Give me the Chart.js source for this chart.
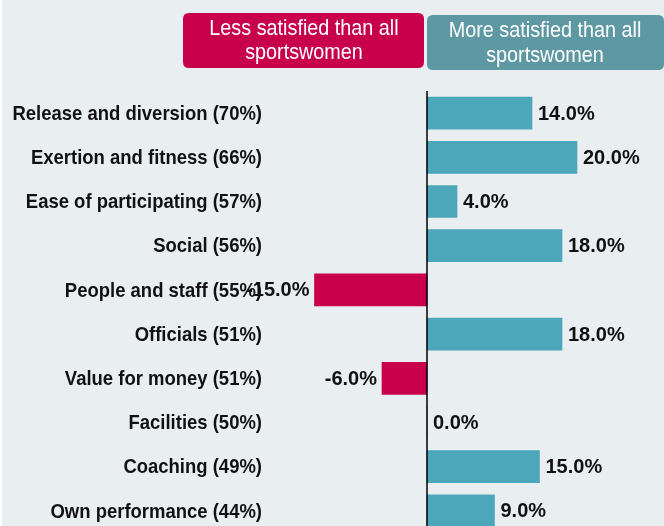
<!DOCTYPE html>
<html>
<head>
<meta charset="utf-8">
<script src="https://cdn.jsdelivr.net/npm/chart.js@4/dist/chart.umd.min.js"></script>
<style>
  html, body { margin: 0; padding: 0; background: #ffffff; overflow: hidden; }
  #wrap { position: absolute; left: 2px; top: 0; width: 662px; height: 560px; }
</style>
</head>
<body>
<div id="wrap"><canvas id="chart"></canvas></div>
<script>
// data
var categories = [
  'Release and diversion (70%)',
  'Exertion and fitness (66%)',
  'Ease of participating (57%)',
  'Social (56%)',
  'People and staff (55%)',
  'Officials (51%)',
  'Value for money (51%)',
  'Facilities (50%)',
  'Coaching (49%)',
  'Own performance (44%)'
];
var differences = [14, 20, 4, 18, -15, 18, -6, 0, 15, 9];
var lessLabel = ['Less satisfied than all', 'sportswomen'];
var moreLabel = ['More satisfied than all', 'sportswomen'];

var BG = '#e9eef1';
var RED = '#c8004b';
var TEAL = '#4da7ba';
var TEAL_BOX = '#5e98a2';

// draws text squeezed sideways, to look like a narrow face
function narrowText(ctx, txt, x, y, sx) {
  ctx.save();
  ctx.translate(x, y);
  ctx.scale(sx, 1);
  ctx.fillText(txt, 0, 0);
  ctx.restore();
}

var bgPlugin = {
  id: 'bg',
  beforeDraw: function (chart) {
    var ctx = chart.ctx;
    ctx.save();
    ctx.fillStyle = BG;
    ctx.fillRect(0, 0, chart.width, chart.height);
    ctx.restore();
  }
};

// category names at the y scale ticks, zero line
var axisText = {
  id: 'axisText',
  afterDraw: function (chart) {
    var ctx = chart.ctx;
    var y = chart.scales.y;
    var x = chart.scales.x;
    var area = chart.chartArea;
    ctx.save();
    ctx.strokeStyle = '#000000';
    ctx.lineWidth = 1.5;
    ctx.beginPath();
    ctx.moveTo(x.getPixelForValue(0), area.top);
    ctx.lineTo(x.getPixelForValue(0), area.bottom);
    ctx.stroke();

    ctx.fillStyle = '#111111';
    ctx.font = 'bold 21px "Liberation Sans"';
    ctx.textAlign = 'right';
    ctx.textBaseline = 'middle';
    categories.forEach(function (c, i) {
      narrowText(ctx, c, area.left - 15, y.getPixelForTick(i) + 1, 0.88);
    });
    ctx.restore();
  }
};

// value labels next to the bar ends
var valueLabels = {
  id: 'valueLabels',
  afterDatasetsDraw: function (chart) {
    var ctx = chart.ctx;
    var meta = chart.getDatasetMeta(0);
    ctx.save();
    ctx.font = 'bold 20px "Liberation Sans"';
    ctx.fillStyle = '#111111';
    ctx.textBaseline = 'middle';
    meta.data.forEach(function (bar, i) {
      var v = differences[i];
      var txt = v.toFixed(1) + '%';
      if (v < 0) {
        ctx.textAlign = 'right';
        ctx.fillText(txt, bar.x - 5, bar.y + 1);
      } else {
        ctx.textAlign = 'left';
        ctx.fillText(txt, bar.x + 6, bar.y + 1);
      }
    });
    ctx.restore();
  }
};

function roundBox(ctx, x, y, w, h, r) {
  ctx.beginPath();
  ctx.moveTo(x + r, y);
  ctx.lineTo(x + w - r, y);
  ctx.quadraticCurveTo(x + w, y, x + w, y + r);
  ctx.lineTo(x + w, y + h - r);
  ctx.quadraticCurveTo(x + w, y + h, x + w - r, y + h);
  ctx.lineTo(x + r, y + h);
  ctx.quadraticCurveTo(x, y + h, x, y + h - r);
  ctx.lineTo(x, y + r);
  ctx.quadraticCurveTo(x, y, x + r, y);
  ctx.closePath();
}

// the two header boxes, placed from the zero line
var headerBoxes = {
  id: 'headerBoxes',
  afterDraw: function (chart) {
    var ctx = chart.ctx;
    var zero = chart.scales.x.getPixelForValue(0);
    ctx.save();
    ctx.fillStyle = RED;
    roundBox(ctx, zero - 244, 13, 241, 55, 6);
    ctx.fill();
    ctx.fillStyle = TEAL_BOX;
    roundBox(ctx, zero, 15, 237, 55, 6);
    ctx.fill();
    ctx.fillStyle = '#ffffff';
    ctx.font = '22px "Liberation Sans"';
    ctx.textAlign = 'center';
    ctx.textBaseline = 'middle';
    narrowText(ctx, lessLabel[0], zero - 123, 29, 0.9);
    narrowText(ctx, lessLabel[1], zero - 123, 53, 0.9);
    narrowText(ctx, moreLabel[0], zero + 118, 31, 0.9);
    narrowText(ctx, moreLabel[1], zero + 118, 56, 0.9);
    ctx.restore();
  }
};

new Chart(document.getElementById('chart'), {
  type: 'bar',
  data: {
    labels: categories,
    datasets: [{
      data: differences,
      backgroundColor: differences.map(function (v) { return v < 0 ? RED : TEAL; }),
      barThickness: 32
    }]
  },
  options: {
    indexAxis: 'y',
    responsive: true,
    maintainAspectRatio: false,
    animation: false,
    layout: { padding: { top: 91, right: 12, bottom: 27, left: 0 } },
    plugins: {
      legend: { display: false },
      tooltip: { enabled: false }
    },
    scales: {
      x: {
        display: false,
        min: -20,
        max: 30
      },
      y: {
        afterFit: function (scale) { scale.width = 275; },
        grid: { display: false, drawTicks: false },
        border: { display: false },
        ticks: { display: false }
      }
    }
  },
  plugins: [bgPlugin, valueLabels, axisText, headerBoxes]
});
</script>
</body>
</html>
